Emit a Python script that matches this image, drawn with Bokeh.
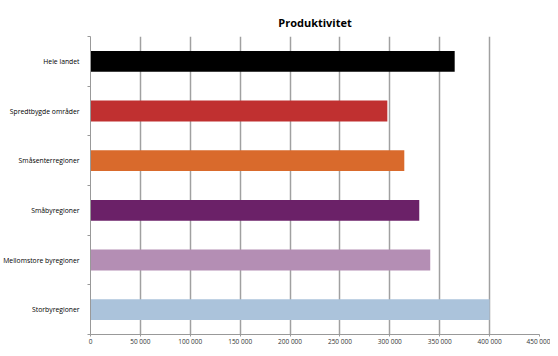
from bokeh.plotting import figure
from bokeh.models import FixedTicker, CustomJSTickFormatter
from bokeh.embed import file_html
from bokeh.resources import INLINE

categories = ["Hele landet", "Spredtbygde områder", "Småsenterregioner",
              "Småbyregioner", "Mellomstore byregioner", "Storbyregioner"]
values = [365000, 297500, 314500, 329500, 340500, 400000]
colors = ["#000000", "#c03030", "#d96a2c", "#6b2168", "#b48eb4", "#abc3db"]
x_ticks = [0, 50000, 100000, 150000, 200000, 250000, 300000, 350000, 400000, 450000]

n = len(categories)
ypos = [n - 0.5 - i for i in range(n)]

p = figure(width=550, height=348, x_range=(0, 450000), y_range=(0, n),
           output_backend="svg", toolbar_location=None,
           min_border_left=82, min_border_right=11, min_border_top=36, min_border_bottom=0)
p.title.text = "Produktivitet"
p.title.align = "center"
p.title.text_font = "Open Sans"
p.title.text_font_size = "11px"
p.title.text_font_style = "bold"
p.title.text_color = "#000000"
p.title.standoff = 14
p.outline_line_color = None

p.hbar(y=ypos, right=values, left=0, height=0.42, fill_color=colors, line_color=None)

p.xaxis.ticker = FixedTicker(ticks=x_ticks)
p.xaxis.formatter = CustomJSTickFormatter(code="return tick.toLocaleString('en-US').replace(/,/g, ' ');")
p.xaxis.major_label_text_font = "Open Sans"
p.xaxis.major_label_text_font_size = "6.5px"
p.xaxis.major_label_text_color = "#333333"
p.xaxis.major_label_standoff = 0
p.xaxis.axis_label = None
p.xaxis.axis_label_standoff = 0
p.xaxis.major_label_text_line_height = 1.0
p.xaxis.axis_line_color = "#999999"
p.xaxis.major_tick_line_color = "#999999"
p.xaxis.major_tick_out = 2
p.xaxis.major_tick_in = 0
p.xaxis.minor_tick_line_color = None

p.yaxis.ticker = FixedTicker(ticks=ypos, minor_ticks=list(range(n + 1)))
p.yaxis.major_label_overrides = {y: c for y, c in zip(ypos, categories)}
p.yaxis.major_label_text_font = "Open Sans"
p.yaxis.major_label_text_font_size = "6.8px"
p.yaxis.major_label_text_color = "#000000"
p.yaxis.major_label_standoff = 5
p.yaxis.major_tick_line_color = None
p.yaxis.minor_tick_line_color = "#999999"
p.yaxis.minor_tick_out = 3
p.yaxis.minor_tick_in = 0
p.yaxis.axis_line_color = "#999999"

p.xgrid.grid_line_color = "#a0a0a0"
p.xgrid.grid_line_width = 1.5
p.ygrid.grid_line_color = None

open("out.html", "w").write(file_html(p, INLINE))
